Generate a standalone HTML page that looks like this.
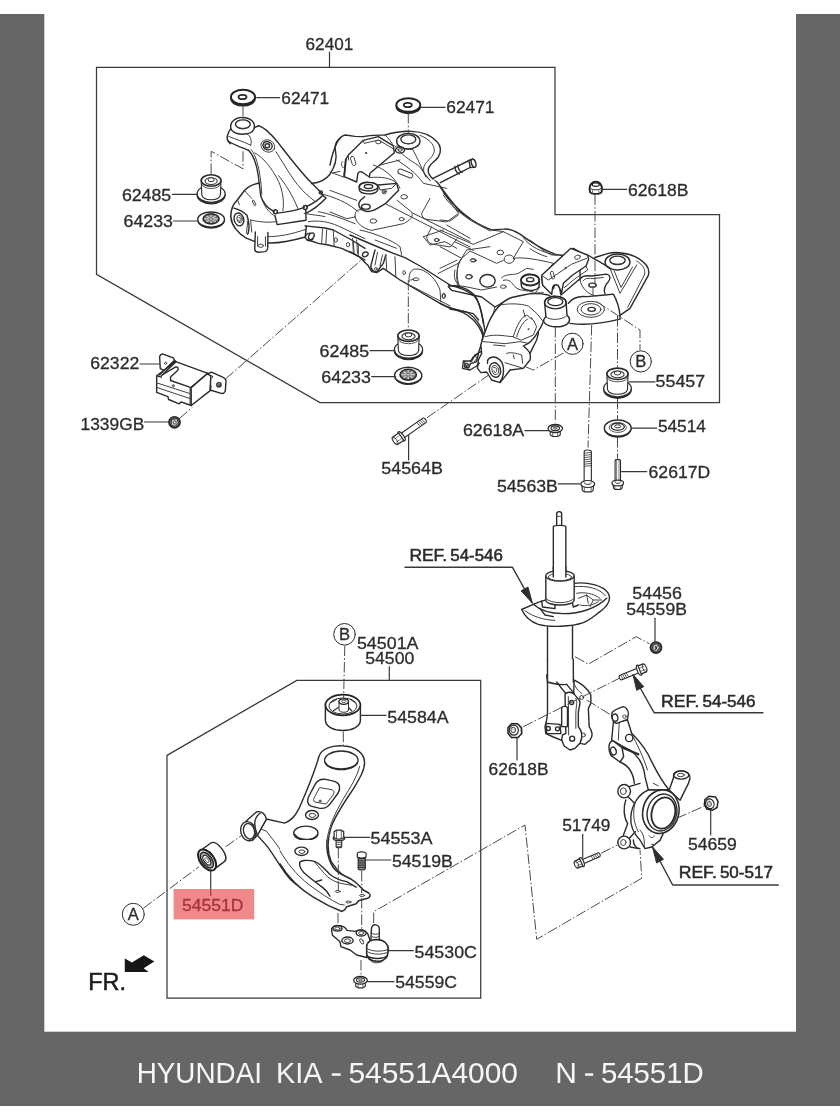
<!DOCTYPE html>
<html><head><meta charset="utf-8"><title>HYUNDAI KIA - 54551A4000</title>
<style>
html,body{margin:0;padding:0;background:#fff;}
body{width:840px;height:1120px;overflow:hidden;font-family:"Liberation Sans",sans-serif;}
svg{display:block;}
path,ellipse,circle,rect,line,polyline,polygon{vector-effect:non-scaling-stroke;}
text{font-family:"Liberation Sans",sans-serif;}
.l{fill:none;stroke:#2b2b2b;stroke-width:1.4;stroke-linecap:round;stroke-linejoin:round;vector-effect:non-scaling-stroke;}
.t{fill:none;stroke:#404040;stroke-width:1;stroke-linecap:round;stroke-linejoin:round;vector-effect:non-scaling-stroke;}
.f{fill:#fff;stroke:#2b2b2b;stroke-width:1.4;stroke-linecap:round;stroke-linejoin:round;vector-effect:non-scaling-stroke;}
.g{fill:#8a8a8a;stroke:#303030;stroke-width:1;vector-effect:non-scaling-stroke;}
.k{fill:#2e2e2e;stroke:#2e2e2e;stroke-width:1;stroke-linejoin:round;}
.d{fill:none;stroke:#4a4a4a;stroke-width:1;stroke-dasharray:10.5 2.2 1.6 2.2;}
.fr{fill:none;stroke:#3a3a3a;stroke-width:1.25;}
.tx{fill:#2d2d2d;font-size:16.7px;stroke:#2d2d2d;stroke-width:0.3px;}
.tb{fill:#2b2b2b;font-size:16.7px;stroke:#2b2b2b;stroke-width:0.55px;}
</style></head><body>
<svg width="840" height="1120" viewBox="0 0 840 1120">
<rect x="0" y="0" width="840" height="1120" fill="#ffffff"/>
<rect x="0" y="14" width="840" height="1092" fill="#666666"/>
<rect x="44.3" y="0" width="751.7" height="1031.7" fill="#ffffff"/>
<defs><filter id="soft" x="0" y="0" width="840" height="1120" filterUnits="userSpaceOnUse"><feGaussianBlur stdDeviation="0.42"/></filter></defs>
<g filter="url(#soft)">

<path class="fr" d="M96.5,67.3 H555 V214.7 H719.5 V402.6 H320 L96.5,274.4 Z"/>
<path class="fr" d="M167,755.4 L296.8,680.4 H480.7 V998.2 H167 Z"/>
<!-- 20_sub_tower.svg -->
<g transform="translate(220,110) scale(0.142857)" class="l">
<!-- mount boss -->
<path class="f" d="M75,130 C68,80 110,50 160,52 C215,55 248,85 240,125 C235,150 215,162 190,166 C140,175 90,165 75,130Z"/>
<ellipse cx="160" cy="100" rx="52" ry="31"/>
<path class="t" d="M112,112 C130,135 190,135 208,112"/>
<!-- ear -->
<path d="M75,130 C55,160 42,190 55,215 L72,236"/>
<path d="M55,215 C90,242 150,262 200,282"/>
<path class="t" d="M60,185 C100,202 160,218 215,247"/>
<path class="t" d="M190,166 C215,185 225,215 215,247"/>
<!-- tower edges -->
<path d="M200,282 C240,322 265,400 275,520 L285,600"/>
<path class="t" d="M218,278 C256,322 282,420 293,590"/>
<path d="M240,125 L270,110 C310,120 350,160 400,220 C470,310 560,430 640,510 L700,570 L722,600"/>
<!-- boss hole on tower -->
<ellipse cx="335" cy="252" rx="50" ry="42" transform="rotate(25 335 252)" class="t"/>
<ellipse cx="333" cy="250" rx="33" ry="28" transform="rotate(25 333 250)"/>
<ellipse cx="331" cy="250" rx="16" ry="14"/>
<!-- creases -->
<path class="t" d="M243,300 C300,330 360,400 410,500 C440,570 450,640 440,705"/>
<path class="t" d="M410,460 C460,520 510,600 545,690"/>
<path class="t" d="M392,292 C430,350 480,440 540,520 C580,570 620,605 665,640"/>
<!-- base flange -->
<path d="M285,600 C300,650 340,692 380,712 M400,722 C470,716 540,702 590,682 M605,676 C650,655 690,630 716,600"/>
<circle cx="388" cy="712" r="14"/>
<circle cx="597" cy="683" r="14"/>
<circle cx="706" cy="577" r="11"/>
<path d="M385,740 L400,802 L602,772 L600,700"/>
<path d="M722,600 L742,616 C700,662 650,700 602,722"/>
<path class="t" d="M300,640 C320,690 350,725 385,742"/>
<!-- left bulge -->
<!-- platform left edge -->
<path d="M840,200 C810,220 800,260 810,300 C820,340 800,400 770,450 C740,490 690,510 640,515"/>
<path class="t" d="M840,430 L790,440"/>
</g>

<!-- 21_sub_b.svg -->
<g transform="translate(330,110) scale(0.166667)" class="l">
<!-- outer top contour -->
<path d="M0,330 C10,280 25,230 45,190 C55,168 70,155 92,150 L150,158 L200,160 C240,150 285,152 330,150 C380,135 440,126 490,128 C545,130 605,150 642,190 C668,215 668,252 650,282 C630,310 600,322 590,352 C585,382 600,402 625,416 L642,432 C672,472 722,542 772,602 L840,652"/>
<!-- rear mount boss -->
<ellipse class="f" cx="470" cy="187" rx="70" ry="47"/>
<ellipse cx="470" cy="176" rx="45" ry="27"/>
<path class="t" d="M428,186 C445,208 495,208 512,186"/>
<!-- inner contour -->
<path class="t" d="M540,152 C590,172 622,200 626,240 C626,270 600,292 580,312 C560,332 556,362 570,392 L602,422"/>
<path class="t" d="M495,235 C522,282 542,332 576,402"/>
<path class="t" d="M400,215 C440,235 470,240 495,235"/>
<!-- bracket plate -->
<path class="f" d="M110,270 L200,182 L290,160 L380,215 L386,256 L240,380 L236,402 L192,372 C176,365 165,376 165,396 L160,432 L85,400 L95,296 Z"/>
<path class="t" d="M110,270 L112,300 M200,182 L205,200 L292,180 L378,232"/>
<rect class="t" x="128" y="278" width="22" height="56" rx="10" transform="rotate(-18 139 306)"/>
<ellipse class="t" cx="290" cy="192" rx="16" ry="11"/>
<circle class="t" cx="216" cy="258" r="4"/>
<ellipse cx="420" cy="240" rx="27" ry="19"/>
<ellipse class="t" cx="420" cy="240" rx="12" ry="8"/>
<path class="t" d="M75,310 C65,320 65,340 80,345"/>
<!-- lower boss -->
<path class="f" d="M175,460 C175,440 205,432 232,434 C262,434 288,445 288,462 L286,482 C280,498 250,505 228,503 C200,502 178,492 176,478 Z"/>
<ellipse cx="231" cy="460" rx="56" ry="26"/>
<ellipse cx="231" cy="459" rx="25" ry="12"/>
<!-- second raised piece -->
<path d="M290,450 L400,440 L412,482 L332,562 L282,592 C250,612 220,612 200,602 C170,590 165,560 185,540 L208,520"/>
<path class="t" d="M240,405 C300,400 370,405 400,440"/>
<ellipse cx="215" cy="580" rx="26" ry="15"/>
<circle class="t" cx="325" cy="490" r="13"/>
<circle class="t" cx="325" cy="490" r="6"/>
<path class="t" d="M290,450 L300,480 L370,470 L400,440"/>
<path class="t" d="M390,215 C420,262 480,302 530,332 L600,422"/>
<path class="t" d="M300,330 L420,300"/>
<path style="stroke-width:1.8" d="M95,296 L85,400"/>
<path class="t" d="M330,150 C350,170 370,195 382,216"/>
<!-- slot -->
<rect class="t" x="405" y="366" width="94" height="30" rx="15" transform="rotate(22 452 381)"/>
<!-- lower plate -->
<path class="t" d="M150,640 C148,602 170,590 200,602 M150,640 C160,682 200,712 250,722 L440,682 C482,662 502,640 490,612 L402,542"/>
<ellipse class="t" cx="260" cy="666" rx="20" ry="13"/>
<ellipse class="t" cx="430" cy="655" rx="15" ry="10"/>
<ellipse class="t" cx="445" cy="521" rx="20" ry="13"/>
<!-- right pockets -->
<path class="t" d="M600,530 L550,620 C550,640 560,650 580,656 L700,672 L772,620 L682,500"/>
<path class="t" d="M610,700 L580,762 C585,792 600,802 620,806 L722,822 L762,772"/>
<ellipse class="t" cx="640" cy="780" rx="14" ry="9"/>
<!-- long lines -->
<path class="t" d="M0,372 L80,402"/>
<path class="t" d="M0,482 L160,542"/>
<path class="t" d="M0,612 L100,652 L150,642"/>
<path class="t" d="M332,562 L840,822"/>
<path class="t" d="M500,620 L840,790"/>
<path class="t" d="M260,330 C330,350 400,420 420,470"/>
<path class="t" d="M400,300 C450,330 520,380 560,440 L700,470"/>
<!-- protruding bolt -->
<path class="f" d="M615,412 L760,340 L840,300 L840,345 L780,376 L662,436 Z" style="stroke:none"/>
<path d="M615,412 L760,340 L840,300 M662,436 L780,376 L840,345"/>
<path d="M750,338 C745,350 760,380 775,384 M768,330 C765,345 778,372 792,374"/>
</g>

<!-- 22_sub_c.svg -->
<g transform="translate(440,180) scale(0.166667)" class="l">
<path d="M0,40 C30,90 80,150 150,210 C200,250 260,280 310,300 L380,295 C410,290 440,300 480,325 C540,370 620,420 690,445 L740,455"/>
<path class="t" d="M20,92 C60,150 120,202 200,252 L300,306"/>
<!-- right bracket plate -->
<path class="f" d="M610,577 L740,455 L800,410 L840,432 L840,592 L726,690 L716,640 C716,612 700,604 690,622 L680,652 L616,632 Z"/>
<path class="t" d="M610,577 L660,600 L840,470"/>
<rect class="t" x="665" y="545" width="20" height="54" rx="9" transform="rotate(-12 675 572)"/>
<circle class="t" cx="755" cy="526" r="4"/>
<circle class="t" cx="830" cy="465" r="17"/>
<!-- center boss -->
<path class="f" d="M486,600 C486,575 515,565 542,566 C572,566 596,580 596,602 L594,640 C585,660 555,664 538,662 C510,660 490,650 488,634 Z"/>
<ellipse cx="541" cy="600" rx="55" ry="33" style="stroke-width:1.8"/>
<ellipse cx="541" cy="598" rx="22" ry="12"/>
<!-- lower right boss -->
<ellipse class="f" cx="690" cy="732" rx="52" ry="32"/>
<ellipse cx="690" cy="728" rx="36" ry="20"/>
<path d="M638,735 L640,840 M742,735 L744,800"/>
<!-- holes -->
<ellipse class="t" cx="362" cy="435" rx="20" ry="14"/>
<ellipse class="t" cx="415" cy="475" rx="30" ry="25"/>
<ellipse class="t" cx="200" cy="482" rx="18" ry="10"/>
<ellipse class="t" cx="175" cy="580" rx="20" ry="14"/>
<ellipse cx="285" cy="605" rx="46" ry="38"/>
<ellipse class="t" cx="380" cy="640" rx="18" ry="10"/>
<ellipse class="t" cx="22" cy="695" rx="10" ry="16"/>
<!-- panel lines -->
<path class="t" d="M0,240 L60,246 L110,210"/>
<path class="t" d="M40,270 L180,350"/>
<path class="t" d="M0,300 L200,386 L380,310 L312,300"/>
<path class="t" d="M90,372 L200,422"/>
<path class="t" d="M380,310 L500,370 L470,420 L440,470"/>
<path class="t" d="M500,345 C540,400 600,430 700,452"/>
<path class="t" d="M0,400 L130,470 L180,426 L340,500 L380,482"/>
<path class="t" d="M130,470 C100,520 90,580 110,640"/>
<path class="t" d="M440,470 C500,460 600,480 680,500 L640,546"/>
<path class="t" d="M0,530 L100,482"/>
<path class="t" d="M370,586 C400,560 440,572 470,560 L520,530 L560,536"/>
<path class="t" d="M380,602 C420,590 430,620 450,640 C480,670 520,660 560,672"/>
<path d="M50,640 L70,662 L250,702 L330,762 L400,722 C440,702 500,690 560,692"/>
<path d="M0,740 C60,772 150,792 200,802 L232,840"/>
<path class="t" d="M330,762 L310,840"/>
<path class="t" d="M50,640 C80,620 150,640 250,660 L340,642"/>
<path class="t" d="M600,642 L560,692 M590,702 C620,690 650,700 660,722"/>
<path class="t" d="M500,710 L560,700 M505,722 L550,714"/>
</g>

<!-- 23_sub_d.svg -->
<g transform="translate(530,230) scale(0.166667)" class="l">
<!-- outer right edge -->
<path d="M390,165 L470,140 C520,128 600,140 650,170 C700,200 722,230 710,272 L600,470 L540,512"/>
<path class="t" d="M640,186 C680,210 696,240 686,270 L586,464"/>
<path class="t" d="M480,230 L540,380 L640,210"/>
<path class="t" d="M505,245 L546,345 L615,222"/>
<!-- right mount boss -->
<ellipse class="f" cx="525" cy="192" rx="75" ry="48"/>
<ellipse cx="525" cy="182" rx="46" ry="25"/>
<path class="t" d="M482,192 C500,212 552,212 570,192"/>
<!-- ear with hole 1 -->
<path d="M300,300 C300,280 330,270 370,276 L460,265 C482,270 486,290 470,310 C450,330 440,360 450,380"/>
<path class="t" d="M320,305 C325,290 350,288 372,292 L440,285"/>
<ellipse cx="375" cy="331" rx="22" ry="12"/>
<path d="M345,150 C380,170 440,200 480,230"/>
<!-- lower plate with hole 2 -->
<path d="M230,440 C260,400 300,395 340,400 L450,390 L500,385 C520,420 535,460 540,512 L540,535 C440,560 330,572 240,560"/>
<ellipse class="t" cx="365" cy="476" rx="82" ry="48"/>
<ellipse class="t" cx="366" cy="476" rx="60" ry="34"/>
<ellipse cx="370" cy="476" rx="22" ry="12"/>
<path class="t" d="M300,300 C310,350 350,390 400,396"/>
<!-- cylinder A boss -->
<path class="f" d="M88,440 C88,415 120,402 150,402 C185,402 213,418 213,442 L216,512 C240,520 245,545 225,560 C200,580 120,585 95,560 C80,548 80,530 92,515 Z"/>
<ellipse cx="150" cy="440" rx="62" ry="38"/>
<ellipse cx="150" cy="436" rx="42" ry="23"/>
<path class="t" d="M92,515 C110,540 190,540 216,512"/>
<!-- left top lines -->
<path class="t" d="M0,60 C40,90 80,130 130,150 L200,150"/>
<path class="t" d="M0,112 C30,130 60,150 100,160"/>
<path class="t" d="M0,380 L80,376 M0,500 C30,520 60,540 92,552"/>
<path d="M40,560 C60,600 50,650 20,700 L0,740"/>
<!-- bracket plate (overdraw) -->
<path class="f" d="M70,272 L245,110 L345,150 L352,176 L336,216 L256,270 L200,320 L190,376 L176,346 C170,324 140,320 135,350 L130,386 L76,332 Z"/>
<path class="t" d="M336,216 L346,240 L270,292 L206,346"/>
<path class="t" d="M70,272 L110,300 L250,205 L340,170"/>
<ellipse class="t" cx="285" cy="163" rx="18" ry="12" transform="rotate(-20 285 163)"/>
<circle class="t" cx="213" cy="228" r="4"/>
<rect class="t" x="126" y="248" width="18" height="46" rx="8" transform="rotate(-15 135 271)"/>
</g>

<!-- 24_sub_e.svg -->
<g transform="translate(225,190) scale(0.166667)" class="l">
<path class="t" d="M475,140 C520,150 560,150 600,160"/>
<!-- rail -->
<path d="M480,215 L600,228 L650,240 L760,300 L840,350"/>
<path d="M500,300 L560,320 L620,330 L700,350 L800,396 L840,420"/>
<path class="t" d="M500,190 C560,180 620,190 680,216 L840,292"/>
<path class="t" d="M585,235 L580,320 M610,240 L605,326 M650,245 L655,336 M770,305 L775,386 M800,320 L800,396"/>
<ellipse class="t" cx="665" cy="300" rx="10" ry="13"/>
<ellipse class="t" cx="738" cy="328" rx="10" ry="13"/>
<path class="t" d="M585,25 C640,40 700,60 760,100 L800,130"/>
<path class="t" d="M560,130 C620,140 700,170 780,202"/>
</g>

<!-- 25_sub_f.svg -->
<g transform="translate(350,230) scale(0.166667)" class="l">
<path d="M0,130 L60,165 L110,215 L130,250 L160,256 L200,230 L300,300 L540,440 L600,470 L700,492 C750,520 790,580 800,622 L790,680 L770,740 L740,762 L722,790"/>
<path d="M150,120 L125,215 C125,245 150,256 165,246 L200,200 L215,150"/>
<path class="t" d="M165,135 L150,210 M195,150 L180,216"/>
<circle class="t" cx="155" cy="233" r="8"/>
<ellipse cx="92" cy="146" rx="18" ry="13" transform="rotate(-30 92 146)"/>
<path d="M0,30 L140,90 L260,140 L330,166 L420,216 L600,330"/>
<path d="M590,330 C640,340 700,360 740,392 C780,430 790,500 800,560"/>
<path class="t" d="M60,0 C150,20 250,60 300,100 L310,150"/>
<path class="t" d="M150,60 L280,110"/>
<path class="t" d="M355,310 C350,250 370,226 420,236 C470,250 520,300 540,360 L545,432"/>
<path class="t" d="M375,296 C385,282 410,285 415,296 C410,305 385,308 375,296 M365,300 L380,297"/>
<ellipse class="t" cx="325" cy="256" rx="8" ry="12"/>
<ellipse class="t" cx="563" cy="396" rx="9" ry="13"/>
<path class="t" d="M270,160 L275,282 M215,150 L220,236 M40,60 L45,140 M15,50 L20,132"/>
<path class="t" d="M440,40 L560,0 M440,40 L480,90 L570,70 L640,110"/>
<ellipse class="t" cx="520" cy="60" rx="14" ry="9"/>
<ellipse class="t" cx="738" cy="182" rx="14" ry="9"/>
<ellipse class="t" cx="712" cy="281" rx="18" ry="12"/>
<path class="t" d="M530,260 L650,200 L700,120 L840,100"/>
<path class="t" d="M650,200 C640,260 640,300 660,342"/>
<path class="t" d="M300,300 L540,425 L600,455"/>
<!-- small bracket bottom right -->
<path d="M690,790 L688,822 L712,828 L722,802 L760,790 L770,745"/>
<circle class="t" cx="702" cy="806" r="7"/>
</g>

<!-- 26_sub_g.svg -->
<g transform="translate(450,270) scale(0.166667)" class="l">
<!-- arch lines -->
<path d="M0,95 C60,90 130,120 160,170 C190,230 200,300 212,380"/>
<path d="M0,235 C50,240 100,260 140,300 C170,330 190,370 200,400"/>
<!-- arm -->
<path class="f" d="M230,320 C260,250 300,190 370,165 L440,150 C480,140 540,140 590,150 L612,162 L575,280 L560,310 C540,360 500,420 470,440 L440,456 C470,480 490,500 480,540 L440,590 L360,600 L330,640 L300,676 L250,660 L220,612 L185,616 L165,590 L170,540 L190,500 L185,450 L200,400 Z"/>
<path class="t" d="M300,210 C350,200 420,200 470,216 L520,260 L560,310"/>
<path class="t" d="M380,400 C400,330 430,280 460,270 L500,300 L520,340 L500,390 L430,420 Z"/>
<path class="t" d="M400,400 C415,350 440,305 465,295"/>
<circle class="t" cx="470" cy="355" r="3"/><circle class="t" cx="488" cy="290" r="3"/>
<path class="t" d="M210,400 C280,380 340,400 380,400"/>
<path class="t" d="M200,430 L330,442 L420,430 L470,440"/>
<path class="t" d="M262,450 L330,456 M440,240 L450,282"/>
<path class="t" d="M340,500 C360,490 400,500 430,510 L436,560 M380,510 L386,532 M330,556 L440,590"/>
<!-- bushing housing -->
<path d="M225,560 C220,520 270,510 300,540 C330,570 326,640 300,672"/>
<ellipse cx="270" cy="600" rx="33" ry="44" transform="rotate(-15 270 600)"/>
<ellipse class="t" cx="272" cy="600" rx="20" ry="28" transform="rotate(-15 272 600)"/>
<path class="t" d="M262,585 C275,580 285,595 278,610 C272,620 262,615 264,605"/>
<!-- small bracket -->
<path d="M185,490 L150,510 L130,546 L80,546 L75,590 L120,600 L160,576 L176,560"/>
<circle class="t" cx="103" cy="570" r="10"/>
<path class="t" d="M150,510 L160,530 L140,560"/>
<!-- cyl A boss -->
<path class="f" d="M568,200 C566,170 600,156 632,157 C668,157 698,172 697,200 L702,272 C722,285 722,310 700,326 C670,346 600,346 572,322 C556,308 560,292 576,282 Z"/>
<ellipse cx="632" cy="195" rx="65" ry="38"/>
<ellipse cx="632" cy="190" rx="45" ry="24"/>
<path class="t" d="M576,282 C600,305 680,300 702,272"/>
<path class="t" d="M30,0 C20,40 30,70 50,90"/>
</g>

<!-- 27_sub_bulge.svg -->
<g transform="translate(222,170) scale(0.119048)" class="l">
<path style="stroke-width:1.5" d="M312,110 C260,120 220,140 190,170 L130,250 C90,290 70,330 75,400 C80,460 130,530 200,570 L272,600"/>
<path d="M280,520 L275,670 C280,690 300,692 320,690 L360,686 C380,680 386,660 384,640 L386,525"/>
<path class="t" d="M300,560 L298,640 M365,560 L365,640"/>
<ellipse class="t" cx="326" cy="636" rx="22" ry="14"/>
<path style="stroke-width:1.5" d="M386,612 C480,616 600,590 700,562 L708,470"/>
<path class="t" d="M240,420 C330,442 420,442 462,432"/>
<path class="t" d="M190,172 C210,200 232,220 252,240"/>
<path class="t" d="M130,250 L146,292"/>
<path d="M100,320 C140,330 180,350 210,380 L220,420 C230,470 230,510 216,540"/>
<ellipse cx="142" cy="415" rx="40" ry="55" transform="rotate(-15 142 415)"/>
<ellipse class="t" cx="148" cy="412" rx="22" ry="32" transform="rotate(-15 148 412)"/>
<path class="t" d="M140,400 C155,395 165,412 156,428 C150,438 138,432 142,420"/>
<path class="t" d="M240,420 L250,522 M216,432 L206,530"/>
<path class="t" d="M255,262 L272,300 L286,292 L268,256 Z"/>
<path class="t" d="M386,560 C480,560 580,540 700,500"/>
<path d="M716,588 L700,570 C696,548 716,530 738,530"/>
<ellipse cx="750" cy="556" rx="21" ry="30" transform="rotate(32 750 556)"/>
<path d="M716,588 C730,600 745,596 762,584"/>
</g>

<!-- 28_boltcap.svg -->
<g class="l">
<path class="f" d="M469,160.6 L472.6,159 C475.5,159.6 476.5,165 474.3,167.3 L470.3,167.6 Z"/>
<ellipse class="f" cx="473.6" cy="163.2" rx="2.1" ry="4.3" transform="rotate(-20 473.6 163.2)"/>
</g>

<!-- 40_small.svg -->
<g>
<ellipse cx="243" cy="98.7" rx="12.1" ry="7.2" fill="#2a2a2a" stroke="#262626" stroke-width="1.4"/>
<ellipse cx="243" cy="97" rx="12.1" ry="7.2" fill="#fff" stroke="#262626" stroke-width="1.9"/>
<ellipse cx="242.5" cy="97" rx="4" ry="2.2" fill="#fff" stroke="#262626" stroke-width="1.8"/>
<ellipse cx="408.3" cy="106.7" rx="12" ry="6.8" fill="#2a2a2a" stroke="#262626" stroke-width="1.4"/>
<ellipse cx="408.3" cy="105" rx="12" ry="6.8" fill="#fff" stroke="#262626" stroke-width="1.9"/>
<ellipse cx="407.8" cy="105" rx="4" ry="2.2" fill="#fff" stroke="#262626" stroke-width="1.8"/>
<ellipse cx="211.1" cy="194.99999999999997" rx="14" ry="8.8" fill="#2a2a2a" stroke="#2a2a2a" stroke-width="1.2"/>
<ellipse cx="211.1" cy="193.79999999999998" rx="14" ry="8.6" fill="#fff" stroke="#2a2a2a" stroke-width="1.2"/>
<path d="M201.2,180.5 L201.79999999999998,194.79999999999998 C203.2,201.29999999999998 219.0,201.29999999999998 220.4,194.79999999999998 L221.0,180.5 Z" fill="#fff" stroke="#2a2a2a" stroke-width="1.1"/>
<ellipse cx="211.1" cy="180.5" rx="9.9" ry="5.7" fill="#fff" stroke="#2a2a2a" stroke-width="1.6"/>
<path d="M201.2,184.0 C204.2,190.0 218.0,190.0 221.0,184.0" fill="none" stroke="#444" stroke-width="0.9"/>
<ellipse cx="211.1" cy="181.1" rx="6.1" ry="3.4" fill="#fff" stroke="#333" stroke-width="1.1"/>
<ellipse cx="211.1" cy="179.7" rx="3.0" ry="2" fill="#fff" stroke="#333" stroke-width="1"/>
<ellipse cx="211.1" cy="220.6" rx="13.4" ry="7.6" fill="#333" stroke="#2a2a2a" stroke-width="1"/>
<ellipse cx="211.1" cy="219.6" rx="13.4" ry="7.6" fill="#fff" stroke="#2a2a2a" stroke-width="1.4"/>
<ellipse cx="211.1" cy="218.9" rx="8.0" ry="5.0" fill="#777" stroke="#2a2a2a" stroke-width="1.6"/>
<path d="M212.6,218.9L217.8,218.9" stroke="#ddd" stroke-width="1.1" fill="none"/>
<path d="M212.2,219.6L215.8,221.9" stroke="#ddd" stroke-width="1.1" fill="none"/>
<path d="M211.1,219.9L211.1,223.1" stroke="#ddd" stroke-width="1.1" fill="none"/>
<path d="M210.0,219.6L206.4,221.9" stroke="#ddd" stroke-width="1.1" fill="none"/>
<path d="M209.6,218.9L204.4,218.9" stroke="#ddd" stroke-width="1.1" fill="none"/>
<path d="M210.0,218.2L206.4,215.9" stroke="#ddd" stroke-width="1.1" fill="none"/>
<path d="M211.1,217.9L211.1,214.7" stroke="#ddd" stroke-width="1.1" fill="none"/>
<path d="M212.2,218.2L215.8,215.9" stroke="#ddd" stroke-width="1.1" fill="none"/>
<ellipse cx="211.1" cy="218.9" rx="2" ry="1.3" fill="#ccc" stroke="#333" stroke-width="0.6"/>
<ellipse cx="408.5" cy="350.8" rx="14.1" ry="8.8" fill="#2a2a2a" stroke="#2a2a2a" stroke-width="1.2"/>
<ellipse cx="408.5" cy="349.6" rx="14.1" ry="8.6" fill="#fff" stroke="#2a2a2a" stroke-width="1.2"/>
<path d="M397.8,335.7 L398.40000000000003,350.6 C399.8,357.1 417.2,357.1 418.59999999999997,350.6 L419.2,335.7 Z" fill="#fff" stroke="#2a2a2a" stroke-width="1.1"/>
<ellipse cx="408.5" cy="335.7" rx="10.7" ry="5.7" fill="#fff" stroke="#2a2a2a" stroke-width="1.6"/>
<path d="M397.8,339.2 C400.8,345.2 416.2,345.2 419.2,339.2" fill="none" stroke="#444" stroke-width="0.9"/>
<ellipse cx="408.5" cy="336.3" rx="6.6" ry="3.4" fill="#fff" stroke="#333" stroke-width="1.1"/>
<ellipse cx="408.5" cy="334.9" rx="3.2" ry="2" fill="#fff" stroke="#333" stroke-width="1"/>
<ellipse cx="408.2" cy="376.4" rx="13.6" ry="8.2" fill="#333" stroke="#2a2a2a" stroke-width="1"/>
<ellipse cx="408.2" cy="375.4" rx="13.6" ry="8.2" fill="#fff" stroke="#2a2a2a" stroke-width="1.4"/>
<ellipse cx="408.2" cy="374.7" rx="8.2" ry="5.4" fill="#777" stroke="#2a2a2a" stroke-width="1.6"/>
<path d="M409.7,374.7L415.0,374.7" stroke="#ddd" stroke-width="1.1" fill="none"/>
<path d="M409.3,375.4L413.0,377.9" stroke="#ddd" stroke-width="1.1" fill="none"/>
<path d="M408.2,375.7L408.2,379.2" stroke="#ddd" stroke-width="1.1" fill="none"/>
<path d="M407.1,375.4L403.4,377.9" stroke="#ddd" stroke-width="1.1" fill="none"/>
<path d="M406.7,374.7L401.4,374.7" stroke="#ddd" stroke-width="1.1" fill="none"/>
<path d="M407.1,374.0L403.4,371.5" stroke="#ddd" stroke-width="1.1" fill="none"/>
<path d="M408.2,373.7L408.2,370.2" stroke="#ddd" stroke-width="1.1" fill="none"/>
<path d="M409.3,374.0L413.0,371.5" stroke="#ddd" stroke-width="1.1" fill="none"/>
<ellipse cx="408.2" cy="374.7" rx="2" ry="1.3" fill="#ccc" stroke="#333" stroke-width="0.6"/>
</g>

<!-- 41_bracket.svg -->
<g transform="translate(140,340) scale(0.119048)" class="l">
<!-- back tab -->
<path class="f" d="M170,240 L165,140 C170,120 185,114 200,120 L280,150 L292,176 L205,255 Z"/>
<circle class="t" cx="215" cy="196" r="9"/>
<!-- box -->
<path class="f" d="M140,300 L300,182 L570,280 L430,400 L430,550 L345,520 L330,536 L240,500 L235,476 L140,440 Z"/>
<path d="M256,340 L430,400 M430,400 L570,280 M140,300 L180,312"/>
<path class="f" d="M430,550 L590,425 L595,300 L570,280 L430,400 Z"/>
<path d="M165,292 L290,170 L302,182 L178,302"/>
<path d="M190,292 L300,226 C320,225 326,240 316,256 L256,310 L258,340"/>
<path class="t" d="M140,360 L420,450 M145,400 L420,492 M420,405 L420,545"/>
<circle class="t" cx="280" cy="384" r="9"/>
<!-- right tab -->
<path class="f" d="M565,287 L600,270 L690,310 C715,320 726,335 722,356 L716,430 C706,450 690,452 675,446 L590,420 L595,300 Z"/>
<circle class="t" cx="600" cy="309" r="10"/>
<circle cx="663" cy="376" r="18"/><circle class="t" cx="663" cy="376" r="8"/>
<path class="t" d="M597,385 L597,405"/>
</g>
<g>
<circle cx="174.5" cy="422.3" r="5.6" fill="#6a6a6a" stroke="#262626" stroke-width="1.5"/>
<path d="M171.5,419.5 L177,418.5 L178.5,423 L175,426.5 L171,425 Z" fill="#c8c8c8" stroke="#222" stroke-width="0.9"/>
<circle cx="174.8" cy="422.5" r="1.6" fill="#ddd" stroke="#222" stroke-width="0.7"/>
</g>

<!-- 42_small2.svg -->
<g>
<ellipse cx="617.5" cy="389.5" rx="13.8" ry="8.8" fill="#2a2a2a" stroke="#2a2a2a" stroke-width="1.2"/>
<ellipse cx="617.5" cy="388.3" rx="13.8" ry="8.6" fill="#fff" stroke="#2a2a2a" stroke-width="1.2"/>
<path d="M606.9,373.8 L607.5,389.3 C608.9,395.8 626.1,395.8 627.5,389.3 L628.1,373.8 Z" fill="#fff" stroke="#2a2a2a" stroke-width="1.1"/>
<ellipse cx="617.5" cy="373.8" rx="10.6" ry="5.7" fill="#fff" stroke="#2a2a2a" stroke-width="1.6"/>
<path d="M606.9,377.3 C609.9,383.3 625.1,383.3 628.1,377.3" fill="none" stroke="#444" stroke-width="0.9"/>
<ellipse cx="617.5" cy="374.40000000000003" rx="6.6" ry="3.4" fill="#fff" stroke="#333" stroke-width="1.1"/>
<ellipse cx="617.5" cy="373.0" rx="3.2" ry="2" fill="#fff" stroke="#333" stroke-width="1"/>
<ellipse cx="617.75" cy="429.20000000000005" rx="13.4" ry="8.1" fill="#333" stroke="#2a2a2a" stroke-width="1"/>
<ellipse cx="617.75" cy="428.1" rx="13.4" ry="8.1" fill="#fff" stroke="#2a2a2a" stroke-width="1.4"/>
<ellipse cx="617.75" cy="427.5" rx="8.6" ry="4.9" fill="#fff" stroke="#444" stroke-width="0.9"/>
<ellipse cx="617.75" cy="426.70000000000005" rx="6.6" ry="3.6" fill="#fff" stroke="#2a2a2a" stroke-width="1.2"/>
<ellipse cx="617.75" cy="426.3" rx="3" ry="1.6" fill="#fff" stroke="#2a2a2a" stroke-width="1"/>
<path d="M550.25,429.5 L550.25,435.0 L552.75,436.5 L557.75,436.5 L560.25,435.0 L560.25,429.5 Z" fill="#fff" stroke="#2a2a2a" stroke-width="1.1"/>
<path d="M552.75,432.5 L552.75,436.5 M557.75,432.5 L557.75,436.5" fill="none" stroke="#444" stroke-width="0.8"/>
<ellipse cx="555.25" cy="428.5" rx="7.2" ry="4.0" fill="#fff" stroke="#2a2a2a" stroke-width="1.3"/>
<ellipse cx="555.25" cy="428.2" rx="4.2" ry="2.3" fill="#fff" stroke="#2a2a2a" stroke-width="1.1"/>
<ellipse cx="555.25" cy="428.2" rx="2.0" ry="1.1" fill="#bbb" stroke="#333" stroke-width="0.7"/>
<path d="M584.15,483.5 L584.15,451.9 C584.15,449.4 591.35,449.4 591.35,451.9 L591.35,483.5 Z" fill="#fff" stroke="#2a2a2a" stroke-width="1.1"/>
<path d="M584.15,453.2 L591.35,452.4" stroke="#333" stroke-width="0.8" fill="none"/>
<path d="M584.15,455.4 L591.35,454.59999999999997" stroke="#333" stroke-width="0.8" fill="none"/>
<path d="M584.15,457.59999999999997 L591.35,456.79999999999995" stroke="#333" stroke-width="0.8" fill="none"/>
<path d="M584.15,459.79999999999995 L591.35,458.99999999999994" stroke="#333" stroke-width="0.8" fill="none"/>
<path d="M584.15,461.99999999999994 L591.35,461.19999999999993" stroke="#333" stroke-width="0.8" fill="none"/>
<path d="M584.15,464.19999999999993 L591.35,463.3999999999999" stroke="#333" stroke-width="0.8" fill="none"/>
<path d="M584.15,466.3999999999999 L591.35,465.5999999999999" stroke="#333" stroke-width="0.8" fill="none"/>
<path d="M581.85,484.5 L582.35,490.4 L584.3,491.9 L591.2,491.9 L593.15,490.4 L593.65,484.5 Z" fill="#fff" stroke="#2a2a2a" stroke-width="1.1"/>
<path d="M584.3,486.5 L584.3,491.9 M591.2,486.5 L591.2,491.9" stroke="#444" stroke-width="0.8" fill="none"/>
<ellipse cx="587.75" cy="484.0" rx="6.9" ry="3.5" fill="#fff" stroke="#2a2a2a" stroke-width="1.2"/>
<path d="M584.15,482.5 C584.15,485.0 591.35,485.0 591.35,482.5" fill="#fff" stroke="#2a2a2a" stroke-width="1"/>
<path d="M615.0999999999999,482.5 L615.0999999999999,461.25 C615.0999999999999,458.75 620.5,458.75 620.5,461.25 L620.5,482.5 Z" fill="#fff" stroke="#2a2a2a" stroke-width="1.1"/>
<path d="M613.0,483.5 L613.5,487.9 L614.9,489.4 L620.6999999999999,489.4 L622.0999999999999,487.9 L622.5999999999999,483.5 Z" fill="#fff" stroke="#2a2a2a" stroke-width="1.1"/>
<path d="M614.9,485.5 L614.9,489.4 M620.6999999999999,485.5 L620.6999999999999,489.4" stroke="#444" stroke-width="0.8" fill="none"/>
<ellipse cx="617.8" cy="483.0" rx="5.8" ry="2.9" fill="#fff" stroke="#2a2a2a" stroke-width="1.2"/>
<path d="M615.0999999999999,481.5 C615.0999999999999,484.0 620.5,484.0 620.5,481.5" fill="#fff" stroke="#2a2a2a" stroke-width="1"/>
<path d="M616.6,460 L616.6,480 M619,460 L619,480" stroke="#444" stroke-width="0.7" fill="none"/>
</g>

<!-- 43_bolts.svg -->
<g>
<g transform="translate(397.5,439.2) rotate(-35.0)">
<path d="M6,-2.7 L32.81763395107537,-2.7 C34.81763395107537,-2.7 34.81763395107537,2.7 32.81763395107537,2.7 L6,2.7 Z" fill="#fff" stroke="#2a2a2a" stroke-width="1.1"/>
<path d="M25.3,-2.7 L26.1,2.7" stroke="#333" stroke-width="0.8" fill="none"/>
<path d="M27.3,-2.7 L28.1,2.7" stroke="#333" stroke-width="0.8" fill="none"/>
<path d="M29.3,-2.7 L30.1,2.7" stroke="#333" stroke-width="0.8" fill="none"/>
<path d="M31.3,-2.7 L32.1,2.7" stroke="#333" stroke-width="0.8" fill="none"/>
<ellipse cx="5" cy="0" rx="2" ry="5.5" fill="#fff" stroke="#2a2a2a" stroke-width="1.2"/>
<path d="M4.5,-4.5 L-3,-4.5 C-5,-4.5 -5,4.5 -3,4.5 L4.5,4.5 Z" fill="#fff" stroke="#2a2a2a" stroke-width="1.2"/>
<ellipse cx="-2.8" cy="0" rx="1.8" ry="3.9" fill="#fff" stroke="#333" stroke-width="0.9"/>
<path d="M-2.8,-1.8 L4.5,-1.8 M-2.8,1.8 L4.5,1.8" stroke="#444" stroke-width="0.7" fill="none"/>
</g>
</g>

<!-- 44_nut_top.svg -->
<g>
<path d="M590,192 C588.5,186 591,182 595.7,181.6 C600.5,182 603,186 601.6,192 C600,194.6 591.5,194.6 590,192 Z" fill="#fff" stroke="#222" stroke-width="1.8"/>
<path d="M590.3,188.5 C593,190.3 598.5,190.3 601.2,188.5" fill="none" stroke="#333" stroke-width="1"/>
<path d="M592.5,189.5 L592.5,193.6 M598.8,189.5 L598.8,193.6" fill="none" stroke="#555" stroke-width="0.8"/>
<ellipse cx="595.8" cy="184.6" rx="3.6" ry="1.8" fill="#fff" stroke="#222" stroke-width="1.2"/>
</g>

<!-- 50_arm.svg -->
<g transform="translate(230,730) scale(0.202381)" class="l">
<!-- arm body filled -->
<path class="f" d="M440,130 C450,95 500,75 555,78 C620,80 665,115 665,160 C665,200 640,240 610,290 C570,350 520,420 500,480 C480,540 480,600 500,650 L530,690 L560,720 L450,840 C400,810 340,780 300,740 C260,700 220,620 180,570 L135,520 L180,440 L270,460 C300,450 325,420 340,390 C380,300 420,200 440,130 Z"/>
<ellipse cx="550" cy="150" rx="83" ry="46"/>
<path d="M470,160 C490,203 612,203 630,160"/>
<path class="t" d="M640,180 C630,230 590,290 560,340 C520,410 490,470 480,540 C470,600 480,650 510,690"/>
<path class="t" d="M130,480 L180,500 C230,560 280,640 330,700 C370,750 420,790 470,822"/>
<!-- pocket -->
<path d="M420,270 C430,250 450,240 480,245 L520,255 C545,265 546,290 535,310 L495,365 C480,385 460,390 440,386 L400,376 C380,366 380,346 390,326 Z"/>
<path class="t" d="M445,285 L505,295 C515,300 516,310 510,320 L475,366 L420,356 C410,350 412,340 418,330 Z"/>
<circle class="t" cx="445" cy="351" r="5"/>
<!-- bosses / holes -->
<ellipse cx="405" cy="420" rx="32" ry="22"/><ellipse class="t" cx="407" cy="422" rx="16" ry="10"/>
<ellipse cx="375" cy="510" rx="60" ry="35"/><path d="M320,516 C340,548 412,548 432,518"/>
<ellipse cx="350" cy="600" rx="32" ry="22"/><ellipse class="t" cx="352" cy="602" rx="16" ry="10"/>
<!-- front sleeve -->
<path class="f" d="M75,455 L130,405 C155,398 176,415 180,440 L135,520 L110,546 Z"/>
<path d="M150,410 C120,430 115,470 135,520"/>
<ellipse class="f" cx="90" cy="500" rx="37" ry="48" transform="rotate(-15 90 500)"/>
<ellipse cx="94" cy="500" rx="27" ry="39" transform="rotate(-15 94 500)"/><path class="t" d="M100,540 L125,525 M112,462 C125,470 128,500 120,528"/>
</g>
<g transform="translate(280,840) scale(0.119048)" class="l">
<path class="f" style="stroke:none" d="M0,200 C60,300 150,400 280,480 C360,530 440,570 520,600 L545,585 L560,560 L640,535 L660,510 L735,490 C760,480 765,460 745,445 L700,420 C680,400 650,360 600,330 L520,290 C480,270 450,240 430,200 C400,140 390,60 395,0 L0,0 Z"/>
<path style="stroke-width:1.5" d="M0,200 C60,300 150,400 280,480 C360,530 440,570 520,600 L545,585 L560,560 L640,535 L660,510 L735,490 C760,480 765,460 745,445 L700,420"/>
<path style="stroke-width:1.5" d="M395,0 C390,60 400,140 430,200 C450,240 480,270 520,290 L600,330 C650,360 680,400 700,420"/>
<path class="t" d="M0,90 C50,180 130,290 250,380 C330,440 420,500 500,540 L540,546"/>
<path d="M165,190 C175,170 230,165 290,180 C340,200 380,250 420,290 C460,320 500,340 560,350 L640,396"/>
<path d="M165,190 C160,230 190,270 230,300 C280,340 320,370 360,400 C390,425 410,450 420,472"/>
<path class="t" d="M290,185 C330,230 360,270 400,310 C440,340 480,360 520,366 L600,380"/>
<path d="M300,350 L350,336"/>
<ellipse cx="180" cy="95" rx="55" ry="35"/><ellipse class="t" cx="184" cy="98" rx="25" ry="15"/>
<ellipse class="t" cx="485" cy="432" rx="22" ry="8"/>
<ellipse class="t" cx="690" cy="466" rx="22" ry="8"/>
<ellipse class="t" cx="575" cy="521" rx="22" ry="8"/>
</g>
<g transform="translate(280,840) scale(0.166667)" class="l">
<!-- ball joint -->
<path class="f" d="M310,545 C305,525 325,514 350,514 C380,514 396,530 402,542 L450,548 C475,535 510,540 525,560 L540,600 L520,705 L460,690 L420,660 L365,640 L360,610 L315,572 Z"/>
<ellipse cx="345" cy="530" rx="27" ry="17"/><ellipse class="t" cx="345" cy="531" rx="15" ry="9"/>
<ellipse cx="487" cy="558" rx="30" ry="18"/><ellipse class="t" cx="487" cy="559" rx="16" ry="9"/>
<ellipse cx="405" cy="603" rx="34" ry="21"/><ellipse class="t" cx="405" cy="604" rx="19" ry="11"/>
<ellipse class="t" cx="490" cy="608" rx="9" ry="18" transform="rotate(-30 490 608)"/>
<path class="f" d="M545,605 L548,540 C548,515 560,507 575,509 C590,511 598,525 596,545 L595,605 Z"/>
<path class="t" d="M549,560 C560,568 585,568 596,560 M553,580 C562,586 582,586 592,580"/>
<path class="f" d="M520,640 C520,610 550,595 585,598 C625,600 652,625 650,660 L645,690 C640,716 610,730 580,728 C545,726 520,710 520,680 Z" style="stroke-width:1.6"/>
<path class="t" d="M521,650 C550,672 620,672 650,655 M520,668 C550,690 620,690 648,672"/>
<path d="M522,695 C550,716 615,716 644,697" />
<path class="t" d="M545,726 C560,742 600,742 620,724"/>
</g>

<!-- 51_bushings.svg -->
<!-- 54584A cylinder bushing -->
<g>
<path d="M325.4,705 L325.4,720 C325.4,734 360.4,734 360.4,720 L360.4,705 Z" fill="#fff" stroke="#262626" stroke-width="1.4"/>
<ellipse cx="342.9" cy="705" rx="17.5" ry="10.4" fill="#fff" stroke="#222" stroke-width="1.7"/>
<ellipse cx="342.9" cy="706" rx="14" ry="8" fill="#fff" stroke="#333" stroke-width="1"/>
<path d="M330,703 L337,699 M356,703 L350,699 M333,711 L339,707 M352,711 L348,707" stroke="#333" stroke-width="1.2" fill="none"/>
<path d="M339,701.5 L339,710 C339,713 348.5,713 348.5,710 L348.5,701.5" fill="#fff" stroke="#333" stroke-width="1"/>
<ellipse cx="343.75" cy="701.6" rx="4.8" ry="2.7" fill="#fff" stroke="#222" stroke-width="1.3"/>
<ellipse cx="343.75" cy="701.4" rx="2.2" ry="1.2" fill="#fff" stroke="#333" stroke-width="0.8"/>
</g>
<!-- 54551D bushing (angled cylinder) -->
<g transform="translate(207.1,860) rotate(-36)">
<path d="M0,-11.5 L13,-11.5 C20.5,-11.5 20.5,11.5 13,11.5 L0,11.5 Z" fill="#fff" stroke="#262626" stroke-width="1.4"/>
<ellipse cx="0" cy="0" rx="7" ry="12" fill="#fff" stroke="#222" stroke-width="2"/>
<ellipse cx="-0.3" cy="0" rx="4.9" ry="9" fill="#aaa" stroke="#222" stroke-width="1.5"/>
<ellipse cx="-0.3" cy="0" rx="3" ry="5.6" fill="#fff" stroke="#222" stroke-width="1.2"/>
<ellipse cx="-0.3" cy="0" rx="1.5" ry="2.8" fill="#fff" stroke="#333" stroke-width="0.8"/>
</g>

<!-- 52_armfast.svg -->
<g>
<path d="M336.09999999999997,838.2 L336.09999999999997,846.4 C336.09999999999997,848.1999999999999 341.7,848.1999999999999 341.7,846.4 L341.7,838.2 Z" fill="#fff" stroke="#2a2a2a" stroke-width="1.1"/>
<path d="M336.09999999999997,840.2 L341.7,840.9000000000001" stroke="#333" stroke-width="0.8" fill="none"/>
<path d="M336.09999999999997,842.2 L341.7,842.9000000000001" stroke="#333" stroke-width="0.8" fill="none"/>
<path d="M336.09999999999997,844.2 L341.7,844.9000000000001" stroke="#333" stroke-width="0.8" fill="none"/>
<path d="M336.09999999999997,846.2 L341.7,846.9000000000001" stroke="#333" stroke-width="0.8" fill="none"/>
<ellipse cx="338.9" cy="838.2" rx="5.8" ry="2.4" fill="#fff" stroke="#2a2a2a" stroke-width="1.2"/>
<path d="M334.09999999999997,837.7 L334.09999999999997,831.7 L336.5,830.2 L341.29999999999995,830.2 L343.7,831.7 L343.7,837.7 C341.29999999999995,839.7 336.5,839.7 334.09999999999997,837.7 Z" fill="#fff" stroke="#2a2a2a" stroke-width="1.2"/>
<path d="M336.5,830.2 L336.5,838.8000000000001 M341.29999999999995,830.2 L341.29999999999995,838.8000000000001" stroke="#444" stroke-width="0.8" fill="none"/>
<path d="M358.09999999999997,856.5 L358.09999999999997,868.5 C358.09999999999997,870.5 365.3,870.5 365.3,868.5 L365.3,856.5 Z" fill="#888" stroke="#2a2a2a" stroke-width="1.1"/>
<path d="M358.3,858.5 L365.09999999999997,858.5" stroke="#222" stroke-width="0.9"/>
<path d="M358.3,860.7 L365.09999999999997,860.7" stroke="#222" stroke-width="0.9"/>
<path d="M358.3,862.9 L365.09999999999997,862.9" stroke="#222" stroke-width="0.9"/>
<path d="M358.3,865.1 L365.09999999999997,865.1" stroke="#222" stroke-width="0.9"/>
<path d="M358.3,867.3 L365.09999999999997,867.3" stroke="#222" stroke-width="0.9"/>
<path d="M357.3,857 L357.3,853.8 C357.3,851.2 366.09999999999997,851.2 366.09999999999997,853.8 L366.09999999999997,857 C363.7,858.3 359.7,858.3 357.3,857 Z" fill="#fff" stroke="#2a2a2a" stroke-width="1.2"/>
<path d="M355.75,981.3 L355.75,986.4749999999999 L358.125,987.9 L362.875,987.9 L365.25,986.4749999999999 L365.25,981.3 Z" fill="#fff" stroke="#2a2a2a" stroke-width="1.1"/>
<path d="M358.125,984.3 L358.125,987.9 M362.875,984.3 L362.875,987.9" fill="none" stroke="#444" stroke-width="0.8"/>
<ellipse cx="360.5" cy="980.3" rx="6.84" ry="3.8" fill="#fff" stroke="#2a2a2a" stroke-width="1.3"/>
<ellipse cx="360.5" cy="980.0" rx="3.9899999999999998" ry="2.1849999999999996" fill="#fff" stroke="#2a2a2a" stroke-width="1.1"/>
<ellipse cx="360.5" cy="980.0" rx="1.9" ry="1.045" fill="#bbb" stroke="#333" stroke-width="0.7"/>
</g>

<!-- 53_bolts2.svg -->
<g>
<g transform="translate(642.9,668.6) rotate(157.9)">
<path d="M5,-2.4 L23.754900514553587,-2.4 C25.754900514553587,-2.4 25.754900514553587,2.4 23.754900514553587,2.4 L5,2.4 Z" fill="#fff" stroke="#2a2a2a" stroke-width="1.1"/>
<path d="M16.3,-2.4 L17.1,2.4" stroke="#333" stroke-width="0.8" fill="none"/>
<path d="M18.3,-2.4 L19.1,2.4" stroke="#333" stroke-width="0.8" fill="none"/>
<path d="M20.3,-2.4 L21.1,2.4" stroke="#333" stroke-width="0.8" fill="none"/>
<path d="M22.3,-2.4 L23.1,2.4" stroke="#333" stroke-width="0.8" fill="none"/>
<ellipse cx="4" cy="0" rx="2" ry="5.4" fill="#fff" stroke="#2a2a2a" stroke-width="1.2"/>
<path d="M3.5,-4.3 L-2,-4.3 C-4,-4.3 -4,4.3 -2,4.3 L3.5,4.3 Z" fill="#fff" stroke="#2a2a2a" stroke-width="1.2"/>
<ellipse cx="-1.7999999999999998" cy="0" rx="1.8" ry="3.6999999999999997" fill="#fff" stroke="#333" stroke-width="0.9"/>
<path d="M-1.7999999999999998,-1.72 L3.5,-1.72 M-1.7999999999999998,1.72 L3.5,1.72" stroke="#444" stroke-width="0.7" fill="none"/>
</g>
<g transform="translate(578.1,863.8) rotate(-23.5)">
<path d="M5,-2.15 L22.371740615212772,-2.15 C24.371740615212772,-2.15 24.371740615212772,2.15 22.371740615212772,2.15 L5,2.15 Z" fill="#fff" stroke="#2a2a2a" stroke-width="1.1"/>
<path d="M14.9,-2.15 L15.7,2.15" stroke="#333" stroke-width="0.8" fill="none"/>
<path d="M16.9,-2.15 L17.7,2.15" stroke="#333" stroke-width="0.8" fill="none"/>
<path d="M18.9,-2.15 L19.7,2.15" stroke="#333" stroke-width="0.8" fill="none"/>
<path d="M20.9,-2.15 L21.7,2.15" stroke="#333" stroke-width="0.8" fill="none"/>
<ellipse cx="4" cy="0" rx="2" ry="4.8" fill="#fff" stroke="#2a2a2a" stroke-width="1.2"/>
<path d="M3.5,-3.8 L-2,-3.8 C-4,-3.8 -4,3.8 -2,3.8 L3.5,3.8 Z" fill="#fff" stroke="#2a2a2a" stroke-width="1.2"/>
<ellipse cx="-1.7999999999999998" cy="0" rx="1.8" ry="3.1999999999999997" fill="#fff" stroke="#333" stroke-width="0.9"/>
<path d="M-1.7999999999999998,-1.52 L3.5,-1.52 M-1.7999999999999998,1.52 L3.5,1.52" stroke="#444" stroke-width="0.7" fill="none"/>
</g>
<circle cx="656" cy="647.6" r="5.6" fill="#666" stroke="#222" stroke-width="1.5"/>
<path d="M653,645 L657.5,643.8 L659.5,647.5 L657,651.5 L653,650.5 Z" fill="#ccc" stroke="#222" stroke-width="0.8"/>
<path d="M655,646 L657,649.5 M657.5,645.5 L655,650" stroke="#222" stroke-width="0.9"/>
</g>

<!-- 60_strut.svg -->
<g transform="translate(500,500) scale(0.166667)" class="l">
<!-- rod tip and rod -->
<path class="f" d="M340,155 L340,85 C340,65 370,65 370,85 L370,155 Z"/>
<path class="t" d="M340,95 C350,100 362,100 370,95"/>
<path class="f" d="M320,160 C320,150 395,150 395,160 L395,460 L320,460 Z"/>
<!-- lower body top -->
<path class="f" d="M285,762 L285,960 L435,960 L435,752 Z" style="stroke:none"/>
<path d="M285,762 L285,960 M435,752 L435,960"/>
<!-- spring seat -->
<path class="f" d="M130,657 L200,626 C230,610 260,604 280,598 L445,500 C520,490 620,510 650,560 C670,600 640,640 600,670 C560,700 540,720 500,736 C430,760 300,766 230,746 C180,730 145,690 130,657 Z"/>
<path d="M200,626 C240,662 300,682 380,682 C480,682 580,650 640,590"/>
<path class="t" d="M150,665 C200,700 260,720 330,722 M445,520 C520,512 600,530 632,575"/>
<path class="t" d="M460,560 C500,550 560,560 600,590 M470,590 L520,570 L560,600 L540,640 M520,570 L530,620 M560,600 L610,600 M480,630 C520,640 560,630 590,610"/>
<path d="M250,605 L255,642 L330,652 L330,622 M240,650 L270,690 L320,700 M430,600 L440,642 L470,630"/>
<!-- upper cylinder -->
<path class="f" d="M275,455 L275,600 C275,640 445,640 445,600 L445,455 Z"/>
<ellipse class="f" cx="360" cy="455" rx="85" ry="32"/>
<ellipse class="t" cx="360" cy="462" rx="70" ry="22"/>
<path class="f" d="M320,400 L320,462 C330,470 385,470 395,462 L395,400 Z" style="stroke:none"/>
<path d="M320,400 L320,462 M395,400 L395,462"/>
<path class="t" d="M275,590 C300,625 420,625 445,590"/>
</g>
<g transform="translate(500,620) scale(0.166667)" class="l">
<path class="f" d="M285,236 L285,560 L440,560 L440,236 Z" style="stroke:none"/>
<path d="M285,236 L285,560 M440,236 L440,372"/>
<path d="M280,330 L285,372 C320,382 360,392 400,386"/>
<!-- back plate -->
<path class="f" d="M445,360 C480,380 520,400 545,450 L545,500 L530,530 L535,640 C556,670 556,700 540,720 L510,746 L480,740 L440,500 Z"/>
<circle class="t" cx="490" cy="465" r="12"/><circle class="t" cx="500" cy="690" r="12"/>
<!-- front plate -->
<path class="f" d="M390,445 C400,430 430,430 445,445 L475,480 C490,500 470,520 470,560 L470,640 C490,660 500,700 480,740 L450,770 L420,780 L385,756 L370,720 L375,690 L395,680 Z"/>
<circle cx="430" cy="495" r="12"/><circle cx="433" cy="712" r="15"/>
<path d="M340,372 L395,442 M400,386 L445,442"/>
<path class="t" d="M440,372 C450,400 470,430 490,440"/>
<path class="t" d="M410,460 L412,690 M455,470 C468,500 455,520 455,560 L455,650"/>
<!-- tube on body -->
<path class="f" d="M370,530 C370,514 405,514 405,530 L405,640 L370,640 Z"/>
<!-- lower left clip -->
<path d="M285,560 L280,600 L270,640 L275,682 L320,702 L370,722"/>
<path class="f" d="M275,620 L360,626 L365,682 L280,682 Z"/>
<circle cx="290" cy="651" r="12"/><circle cx="345" cy="653" r="12"/>
</g>
<!-- nut 62618B lower -->
<g>
<path d="M508,727.5 L511.5,723.8 L517.5,723.8 L521.5,727.5 L521.8,733.5 L518,737.5 L511.5,737.5 L508,733.5 Z" fill="#fff" stroke="#222" stroke-width="1.5"/>
<ellipse cx="513.8" cy="730.2" rx="4.6" ry="5" fill="#fff" stroke="#222" stroke-width="1.2"/>
<ellipse cx="513.2" cy="730" rx="2.4" ry="2.8" fill="#ddd" stroke="#333" stroke-width="0.9"/>
<path d="M518,724.5 L521,728.5 L521.3,733.5" fill="none" stroke="#333" stroke-width="0.8"/>
</g>

<!-- 61_knuckle.svg -->
<g transform="translate(590,690) scale(0.166667)" class="l">
<!-- upper arm -->
<path class="f" d="M140,195 L130,300 L200,340 C270,370 320,430 330,520 L350,600 L475,600 C440,560 400,490 370,430 C340,360 290,300 250,260 L225,180 Z"/>
<path class="t" d="M250,265 C280,320 320,400 345,480"/>
<path class="t" d="M175,200 L170,300"/>
<circle class="f" cx="235" cy="288" r="22"/>
<!-- top ear -->
<path class="f" d="M132,135 C150,118 180,106 200,100 C215,100 232,125 230,142 L225,176 L160,200 C140,198 125,170 132,135 Z"/>
<ellipse cx="150" cy="166" rx="17" ry="22" transform="rotate(-15 150 166)"/>
<circle class="t" cx="207" cy="160" r="10"/>
<!-- left ear -->
<path class="f" d="M130,305 C110,320 108,360 125,392 L180,432 L202,400 L192,346 L146,310 Z"/>
<ellipse cx="140" cy="366" rx="17" ry="24" transform="rotate(-15 140 366)"/>
<path style="stroke-width:2.2" d="M196,346 L290,386"/>
<path d="M180,432 C230,452 260,500 266,560"/>
<!-- tie rod arm -->
<path class="f" d="M475,600 L500,530 C500,500 520,485 550,485 C580,485 602,505 600,530 L590,562 L560,622 L540,662 Z"/>
<ellipse cx="547" cy="510" rx="46" ry="25"/><ellipse class="t" cx="545" cy="510" rx="21" ry="10"/>
<!-- body -->
<path class="f" d="M350,600 C300,620 250,680 245,760 C240,820 270,870 300,900 L330,952 L370,942 L420,902 L440,860 L520,760 L475,600 Z"/>
<path d="M215,660 C200,700 200,760 226,802 L200,872"/>
<path class="t" d="M268,690 C255,740 262,800 290,850"/>
<!-- bosses -->
<path d="M235,580 L300,560 M230,642 L270,682 M236,890 L272,850 M240,942 L292,952"/>
<ellipse class="f" cx="205" cy="607" rx="38" ry="40"/><ellipse class="t" cx="200" cy="607" rx="18" ry="20"/>
<ellipse class="f" cx="205" cy="915" rx="38" ry="38"/><ellipse class="t" cx="200" cy="915" rx="16" ry="18"/>
<path d="M260,900 C260,932 280,952 300,952"/>
<path class="t" d="M300,840 C320,860 330,900 325,940"/>
<!-- bearing -->
<ellipse class="f" cx="425" cy="730" rx="108" ry="132" transform="rotate(14 425 730)" style="stroke-width:1.6"/>
<ellipse cx="432" cy="735" rx="88" ry="112" transform="rotate(14 432 735)"/>
<ellipse cx="440" cy="738" rx="70" ry="95" transform="rotate(14 440 738)" style="stroke-width:1.8"/>
<path class="t" d="M380,560 L410,575 M355,875 C365,890 380,890 385,875 M370,925 L385,930"/>
</g>
<!-- nut 54659 -->
<g>
<path d="M705,799.5 L709,796.2 L715.5,797 L718,801.5 L717,807.5 L712.5,810.3 L706.8,809 L704.3,804.5 Z" fill="#fff" stroke="#222" stroke-width="1.5"/>
<ellipse cx="709.8" cy="803.8" rx="4.2" ry="5" transform="rotate(-20 709.8 803.8)" fill="#fff" stroke="#222" stroke-width="1.2"/>
<ellipse cx="709.3" cy="803.8" rx="2" ry="2.7" transform="rotate(-20 709.3 803.8)" fill="#ccc" stroke="#333" stroke-width="0.9"/>
</g>

<!-- 70_dash.svg -->
<g class="d">
<path d="M243,105.5V121"/>
<path d="M243,151.3V168.8L211.1,151.3V174.8"/>
<path d="M408.3,113V134"/>
<path d="M595,194.5V285"/>
<path d="M179.3,418.6L192.4,407.2M225.7,378.8L363,258.5"/>
<path d="M408.3,280V328.5"/>
<path d="M426.9,417.8L488,375.5"/>
<path d="M563.5,353L533.3,370L523.3,365.8"/>
<path d="M555.3,327V422.5"/>
<path d="M591.7,325L588,447.5"/>
<path d="M617.5,316V367.5M617.5,398.8V420M617.5,437V458.5"/>
<path d="M593,286V299M596.7,301.7L640,330V350"/>
<path d="M344.8,645.5L343.6,699M343.3,731.7V748"/>
<path d="M143.3,908.3L199,866.7M225.7,846.7L241.9,835.2"/>
<path d="M338.3,848V890M338,913V923"/>
<path d="M361.7,871V893M361.7,898V930M361,960V976"/>
<path d="M373.7,923V911.7L525,825L536.7,939.3L641.7,878.3L640,850"/>
<path d="M523.3,726.7L619.2,678.3"/>
<path d="M586.7,700L610.8,715"/>
<path d="M575,656.7L588.3,664.2L636.2,636.7L649.5,643.8"/>
<path d="M601,853.3L617.1,845.2"/>
<path d="M676.7,818.3L705,805.8"/>
</g>

<!-- 80_leaders.svg -->
<g class="l" style="stroke-width:1.2;stroke:#383838">
<path d="M329.5,52V67"/>
<path d="M256.7,97.7H279.5"/>
<path d="M420.7,107.3H445"/>
<path d="M172.3,194.3H196.7"/>
<path d="M173.3,221H196.7"/>
<path d="M601.7,189.3H626.7"/>
<path d="M140,364H160"/>
<path d="M144.3,422H168.3"/>
<path d="M370,350.7H395"/>
<path d="M371.7,376.7H395.7"/>
<path d="M525,430.7H549.3"/>
<path d="M408.6,435.6V460"/>
<path d="M558.3,483.8H580"/>
<path d="M629.4,381.9H655"/>
<path d="M631.5,428.1H656.7"/>
<path d="M621.5,471.6H646.7"/>
<path d="M389.3,666.7V680"/>
<path d="M360.4,715.4H386"/>
<path d="M517,738.5V760"/>
<path d="M655,618.3V641.4"/>
<path d="M345,837.3H370"/>
<path d="M365.7,860H390.7"/>
<path d="M387.3,950.7H413.3"/>
<path d="M366.7,981.7H394"/>
<path d="M582.7,834.3V858"/>
<path d="M710.7,810V835"/>
<path d="M210.7,871V889"/>
<!-- REF arrows -->
<path style="stroke-width:1.4" d="M405,567.3H512.5L532.3,603"/>
<path style="stroke-width:1.4" d="M763,712.8H654.2L633.2,675.5"/>
<path style="stroke-width:1.4" d="M778.3,885H672.7L652.5,847"/>
</g>
<g class="k">
<path d="M532.3,603.0 L528.0,587.1 L521.1,590.9 Z"/>
<path d="M632.9,674.3 L636.7,690.3 L643.7,686.7 Z"/>
<path d="M652.5,847.0 L656.6,863.0 L663.5,859.3 Z"/>
</g>
<!-- circles -->
<g class="f" style="stroke-width:1">
<circle cx="572.5" cy="343.8" r="10.6"/>
<circle cx="640.8" cy="361.4" r="10.6"/>
<circle cx="344.5" cy="634.3" r="10.8"/>
<circle cx="133.3" cy="914.3" r="11"/>
</g>
<g style="fill:#2d2d2d;stroke:#2d2d2d;stroke-width:0.3px;font-size:16.6px" text-anchor="middle">
<text x="572.5" y="349.7">A</text>
<text x="640.8" y="367.3">B</text>
<text x="344.6" y="640.2">B</text>
<text x="133.3" y="920.2">A</text>
</g>

<text class="tx" x="305.6" y="49.8" textLength="47.6" lengthAdjust="spacingAndGlyphs">62401</text>
<text class="tx" x="281.3" y="104.3" textLength="47.9" lengthAdjust="spacingAndGlyphs">62471</text>
<text class="tx" x="446.3" y="113.1" textLength="48.2" lengthAdjust="spacingAndGlyphs">62471</text>
<text class="tx" x="121.9" y="200.8" textLength="49.3" lengthAdjust="spacingAndGlyphs">62485</text>
<text class="tx" x="123.6" y="227.1" textLength="49.3" lengthAdjust="spacingAndGlyphs">64233</text>
<text class="tx" x="627.9" y="195.8" textLength="60.6" lengthAdjust="spacingAndGlyphs">62618B</text>
<text class="tx" x="90.3" y="369.1" textLength="48.9" lengthAdjust="spacingAndGlyphs">62322</text>
<text class="tx" x="80.6" y="429.8" textLength="63.6" lengthAdjust="spacingAndGlyphs">1339GB</text>
<text class="tx" x="319.6" y="356.5" textLength="49.6" lengthAdjust="spacingAndGlyphs">62485</text>
<text class="tx" x="321.3" y="382.5" textLength="49.6" lengthAdjust="spacingAndGlyphs">64233</text>
<text class="tx" x="462.9" y="435.8" textLength="61.3" lengthAdjust="spacingAndGlyphs">62618A</text>
<text class="tx" x="381.3" y="473.8" textLength="61.6" lengthAdjust="spacingAndGlyphs">54564B</text>
<text class="tx" x="496.9" y="491.5" textLength="61.0" lengthAdjust="spacingAndGlyphs">54563B</text>
<text class="tx" x="655.6" y="386.5" textLength="49.6" lengthAdjust="spacingAndGlyphs">55457</text>
<text class="tx" x="657.9" y="432.1" textLength="48.0" lengthAdjust="spacingAndGlyphs">54514</text>
<text class="tx" x="648.6" y="478.1" textLength="61.6" lengthAdjust="spacingAndGlyphs">62617D</text>
<text class="tb" x="409.4" y="560.7" textLength="37.8" lengthAdjust="spacingAndGlyphs">REF.</text>
<text class="tb" x="450.3" y="560.7" textLength="52.6" lengthAdjust="spacingAndGlyphs">54-546</text>
<text class="tx" x="356.9" y="648.8" textLength="61.6" lengthAdjust="spacingAndGlyphs">54501A</text>
<text class="tx" x="365.3" y="663.8" textLength="48.9" lengthAdjust="spacingAndGlyphs">54500</text>
<text class="tx" x="387.3" y="722.5" textLength="61.2" lengthAdjust="spacingAndGlyphs">54584A</text>
<text class="tx" x="488.6" y="774.8" textLength="59.9" lengthAdjust="spacingAndGlyphs">62618B</text>
<text class="tx" x="632.3" y="599.1" textLength="49.6" lengthAdjust="spacingAndGlyphs">54456</text>
<text class="tx" x="626.3" y="614.8" textLength="60.6" lengthAdjust="spacingAndGlyphs">54559B</text>
<text class="tb" x="661.1" y="707.3" textLength="38.2" lengthAdjust="spacingAndGlyphs">REF.</text>
<text class="tb" x="702.4" y="707.3" textLength="53.2" lengthAdjust="spacingAndGlyphs">54-546</text>
<text class="tx" x="370.6" y="844.1" textLength="61.9" lengthAdjust="spacingAndGlyphs">54553A</text>
<text class="tx" x="391.9" y="866.5" textLength="61.0" lengthAdjust="spacingAndGlyphs">54519B</text>
<text class="tx" x="414.6" y="957.5" textLength="62.3" lengthAdjust="spacingAndGlyphs">54530C</text>
<text class="tx" x="395.3" y="988.1" textLength="61.6" lengthAdjust="spacingAndGlyphs">54559C</text>
<text class="tx" x="562.2" y="831.3" textLength="48.3" lengthAdjust="spacingAndGlyphs">51749</text>
<text class="tx" x="687.9" y="849.8" textLength="49.0" lengthAdjust="spacingAndGlyphs">54659</text>
<text class="tb" x="678.7" y="878.3" textLength="38.1" lengthAdjust="spacingAndGlyphs">REF.</text>
<text class="tb" x="719.9" y="878.3" textLength="53.0" lengthAdjust="spacingAndGlyphs">50-517</text>
<!-- highlight + misc text -->
<rect x="173.6" y="889" width="80.6" height="30.4" fill="#f08a8a"/>
<path d="M210.7,889V896" stroke="#9a3a44" stroke-width="1.2"/>
<text x="181.9" y="910.5" textLength="61.6" lengthAdjust="spacingAndGlyphs" style="fill:#a8323c;stroke:#a8323c;stroke-width:0.3px;font-size:16.7px">54551D</text>
<text x="88.2" y="990" textLength="37.8" lengthAdjust="spacingAndGlyphs" style="fill:#1c1c1c;stroke:#1c1c1c;stroke-width:0.5px;font-size:24.2px">FR.</text>
<path d="M124.8,958.5 L124.8,971.9 L148.6,972.1 L143.6,968.3 L154.3,961.4 L143.8,955.2 L131.9,962.6 Z" fill="#141414"/>
<g style="fill:#f6f6f6;font-size:29.4px">
<text x="136.7" y="1083.2" textLength="125.3" lengthAdjust="spacingAndGlyphs">HYUNDAI</text>
<text x="276.0" y="1083.2" textLength="46.7" lengthAdjust="spacingAndGlyphs">KIA</text>
<rect x="331.8" y="1073.3" width="8.9" height="2.5" fill="#f6f6f6"/>
<text x="348.4" y="1083.2" textLength="169.6" lengthAdjust="spacingAndGlyphs">54551A4000</text>
<text x="555.3" y="1083.2" textLength="21.7" lengthAdjust="spacingAndGlyphs">N</text>
<rect x="585" y="1073.3" width="8.2" height="2.5" fill="#f6f6f6"/>
<text x="600.9" y="1083.2" textLength="102.8" lengthAdjust="spacingAndGlyphs">54551D</text>
</g>

</g></svg></body></html>
